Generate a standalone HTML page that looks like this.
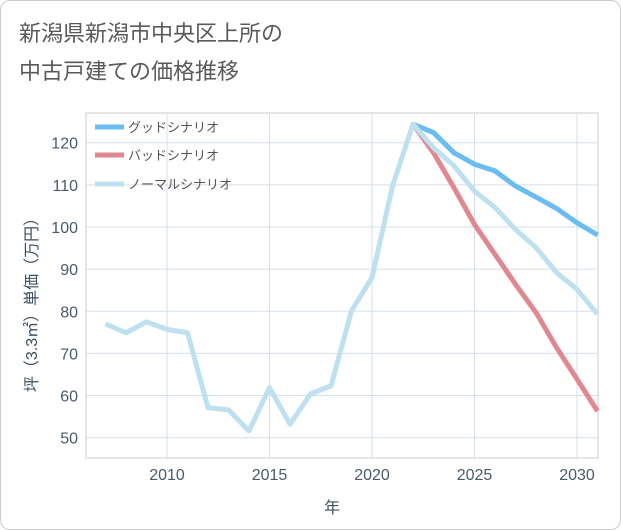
<!DOCTYPE html>
<html><head><meta charset="utf-8"><style>
body{margin:0;background:#fff;font-family:"Liberation Sans","Noto Sans CJK JP",sans-serif;}
#wrap{position:relative;width:619px;height:528px;border:1px solid #ccc;border-radius:10px;overflow:hidden;}
</style></head><body>
<div id="wrap">
<svg id="chart" width="619" height="528">
<text x="18" y="40" font-size="22" fill="#5a5a5a">新潟県新潟市中央区上所の</text>
<text x="18" y="78" font-size="22" fill="#5a5a5a">中古戸建ての価格推移</text>
<g id="grid"></g><g id="axes"></g><g id="lines"></g><g id="legend"></g>
<text x="331" y="512" font-size="16" fill="#3e4f60" text-anchor="middle">年</text>
<text transform="translate(36,300) rotate(-90)" font-size="16" fill="#3e4f60" text-anchor="middle">坪（3.3㎡）単価（万円）</text>
</svg></div>
<script>
const years=[2007,2008,2009,2010,2011,2012,2013,2014,2015,2016,2017,2018,2019,2020,2021,2022,2023,2024,2025,2026,2027,2028,2029,2030,2031];
const normalVals=[77,74.9,77.5,75.7,74.9,57.1,56.6,51.6,61.9,53.2,60.4,62.3,80.1,88,109.7,124.4,118.8,114.5,108.5,104.6,99.4,95.1,89.2,85.2,79.3];
const futureYears=[2022,2023,2024,2025,2026,2027,2028,2029,2030,2031];
const goodVals=[124.4,122.4,117.6,114.9,113.3,109.7,107.1,104.4,101,98.1];
const badVals=[124.4,117.6,109.3,100.6,93.5,86.4,79.7,71.4,63.9,56.3];
const yTicks=[50,60,70,80,90,100,110,120];
const xTicks=[2010,2015,2020,2025,2030];
const L=85,R=597,T=112,B=457;
const x=v=>166+(v-2010)*(576-166)/20;
const y=v=>436.7-(v-50)*(436.7-141.7)/70;
const NS="http://www.w3.org/2000/svg";
function mk(t,a,p){const e=document.createElementNS(NS,t);for(const k in a)e.setAttribute(k,a[k]);p.appendChild(e);return e;}
const grid=document.getElementById('grid'),axes=document.getElementById('axes'),lines=document.getElementById('lines'),leg=document.getElementById('legend');
mk('rect',{x:L,y:T,width:R-L,height:B-T,fill:'none',stroke:'#ccc'},grid);
yTicks.forEach(v=>{const l=mk('line',{x1:L,x2:R,y1:y(v),y2:y(v),stroke:'#d5dfe8'},grid);

const t=mk('text',{x:L-8,y:y(v)+6,'font-size':16,fill:'#4a5a6a','text-anchor':'end'},axes);t.textContent=v;
});
xTicks.forEach(v=>{const l=mk('line',{x1:x(v),x2:x(v),y1:T,y2:B,stroke:'#d5dfe8'},grid);

const t=mk('text',{x:x(v),y:B+22,'font-size':16,fill:'#4a5a6a','text-anchor':'middle'},axes);t.textContent=v;
});
function pl(xs,vs,c,n){const p=mk('polyline',{points:xs.map((d,i)=>x(d)+','+y(vs[i])).join(' '),fill:'none',stroke:c,'stroke-width':5,'stroke-linejoin':'round'},lines);
}
pl(futureYears,goodVals,'#6bbcf0','good-scenario-line');
pl(futureYears,badVals,'#e0888f','bad-scenario-line');
pl(years,normalVals,'#bfe0ef','normal-scenario-line');
[['グッドシナリオ','#6bbcf0',126],['バッドシナリオ','#e0888f',154],['ノーマルシナリオ','#bfe0ef',183]].forEach((d,i)=>{
const g=mk('g',{},leg);
mk('line',{x1:94,x2:123,y1:d[2],y2:d[2],stroke:d[1],'stroke-width':5},g);
const t=mk('text',{x:127,y:d[2]+5,'font-size':13,fill:'#555'},g);t.textContent=d[0];});
</script></body></html>
